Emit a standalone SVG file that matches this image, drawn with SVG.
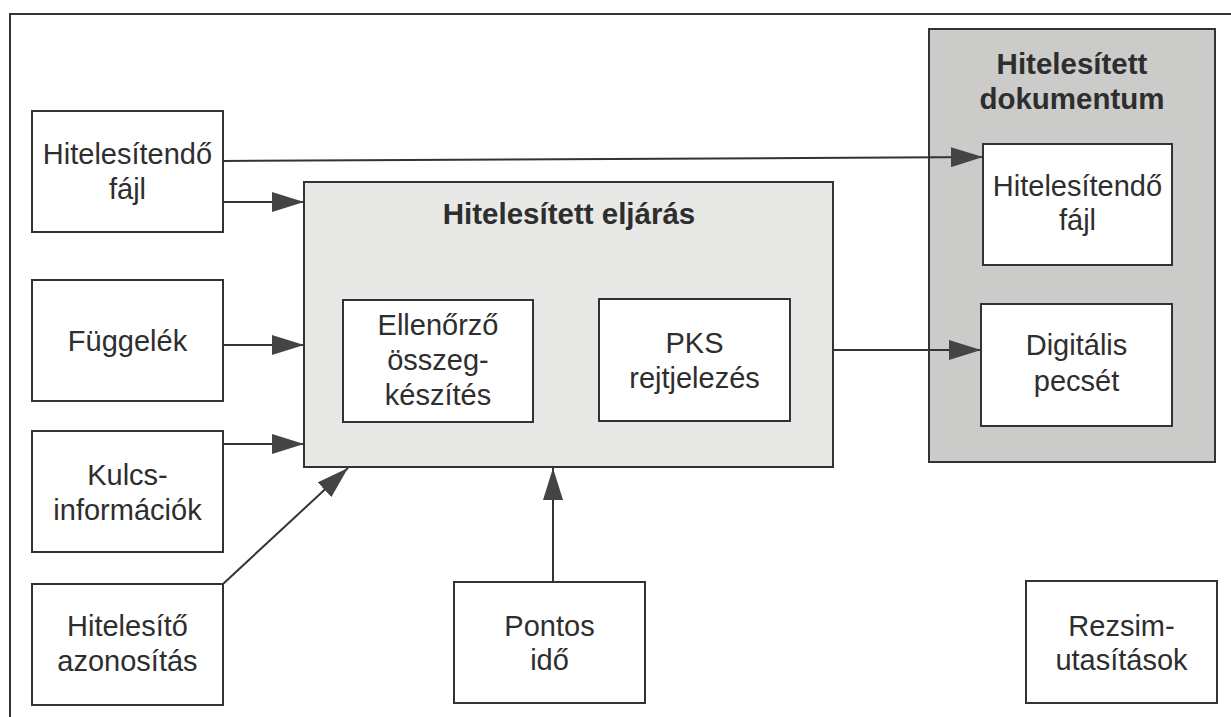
<svg xmlns="http://www.w3.org/2000/svg" width="1231" height="717" viewBox="0 0 1231 717">
<style>
.bx{fill:#ffffff;stroke:#333333;stroke-width:2}
.gl{fill:#e8e8e6;stroke:#333333;stroke-width:2}
.gd{fill:#cbcbc9;stroke:#333333;stroke-width:2}
.t{font-family:"Liberation Sans",Arial,Helvetica,sans-serif;font-size:29px;fill:#2e2e2e;text-anchor:middle}
.tb{font-family:"Liberation Sans",Arial,Helvetica,sans-serif;font-size:29.5px;font-weight:bold;fill:#2e2e2e;text-anchor:middle}
.c{fill:none;stroke:#333333;stroke-width:2}
</style>
<defs>
<marker id="ah" markerUnits="userSpaceOnUse" markerWidth="32" markerHeight="20" refX="32" refY="10" orient="auto">
<path d="M0,0 L32,10 L0,20 Z" fill="#444444"/>
</marker>
</defs>
<rect x="0" y="0" width="1231" height="717" fill="#ffffff"/>
<g id="frame"><path class="c" d="M10,730 V14 H1240"/></g>

<g id="n-file">
<rect class="bx" x="32" y="111" width="191" height="121"/>
<text class="t" x="127.5" y="164">Hitelesítendő</text>
<text class="t" x="127.5" y="199">fájl</text>
</g>
<g id="n-appendix">
<rect class="bx" x="32" y="280" width="191" height="121"/>
<text class="t" x="127.5" y="351">Függelék</text>
</g>
<g id="n-key">
<rect class="bx" x="32" y="431" width="191" height="121"/>
<text class="t" x="127.5" y="485">Kulcs-</text>
<text class="t" x="127.5" y="520">információk</text>
</g>
<g id="n-auth">
<rect class="bx" x="32" y="584" width="191" height="121"/>
<text class="t" x="127.5" y="636">Hitelesítő</text>
<text class="t" x="127.5" y="671">azonosítás</text>
</g>
<g id="n-process">
<rect class="gl" x="304" y="182" width="529" height="285"/>
<text class="tb" x="569" y="224">Hitelesített eljárás</text>
</g>
<g id="n-checksum">
<rect class="bx" x="343" y="300" width="190" height="122"/>
<text class="t" x="438" y="335">Ellenőrző</text>
<text class="t" x="438" y="370">összeg-</text>
<text class="t" x="438" y="405">készítés</text>
</g>
<g id="n-pks">
<rect class="bx" x="599" y="299" width="191" height="122"/>
<text class="t" x="694.5" y="353">PKS</text>
<text class="t" x="694.5" y="388">rejtjelezés</text>
</g>
<g id="n-time">
<rect class="bx" x="454" y="582" width="191" height="121"/>
<text class="t" x="549.5" y="636">Pontos</text>
<text class="t" x="549.5" y="670">idő</text>
</g>
<g id="n-doc">
<rect class="gd" x="929" y="29" width="286" height="433"/>
<text class="tb" x="1072" y="74">Hitelesített</text>
<text class="tb" x="1072" y="109">dokumentum</text>
</g>
<g id="n-docfile">
<rect class="bx" x="983" y="144" width="189" height="121"/>
<text class="t" x="1077.5" y="196">Hitelesítendő</text>
<text class="t" x="1077.5" y="230">fájl</text>
</g>
<g id="n-seal">
<rect class="bx" x="981" y="304" width="191" height="122"/>
<text class="t" x="1076.5" y="355">Digitális</text>
<text class="t" x="1076.5" y="391">pecsét</text>
</g>
<g id="n-regime">
<rect class="bx" x="1026" y="581" width="191" height="122"/>
<text class="t" x="1121.5" y="636">Rezsim-</text>
<text class="t" x="1121.5" y="670">utasítások</text>
</g>

<g id="connectors">
<line class="c" x1="223" y1="161" x2="983" y2="157" marker-end="url(#ah)"/>
<line class="c" x1="223" y1="202" x2="304" y2="202" marker-end="url(#ah)"/>
<line class="c" x1="223" y1="345" x2="304" y2="345" marker-end="url(#ah)"/>
<line class="c" x1="223" y1="444" x2="304" y2="444" marker-end="url(#ah)"/>
<line class="c" x1="223" y1="584" x2="348" y2="468" marker-end="url(#ah)"/>
<line class="c" x1="553" y1="582" x2="553" y2="468" marker-end="url(#ah)"/>
<line class="c" x1="833" y1="350" x2="981" y2="350" marker-end="url(#ah)"/>
</g>
</svg>
